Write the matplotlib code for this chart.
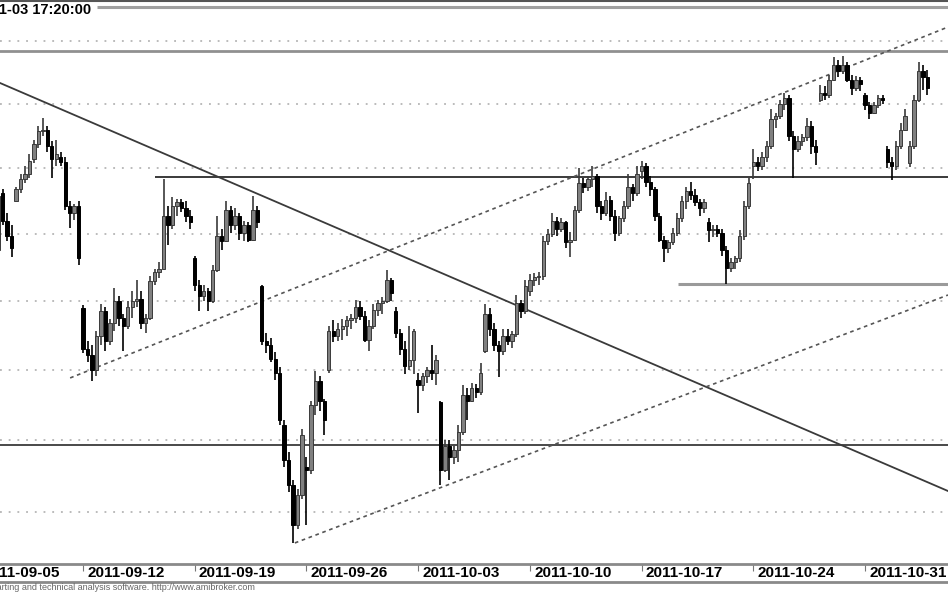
import matplotlib
matplotlib.use("Agg")
import matplotlib.pyplot as plt
import matplotlib.transforms as mtransforms
from matplotlib.lines import Line2D

plt.rcParams['font.family'] = ['Liberation Sans', 'DejaVu Sans']

# intraday bars, 5 per session; bar 0 = first bar of 2011-09-05 (off the left edge)
BARS_PER_DAY = 5
FIRST_BAR = 5   # data starts with the 2011-09-06 session

# one row per session: Sep 6 .. Nov 3 (Nov 1 closed)
opens = [
    2345, 2338, 2381, 2360, 2349,
    2375, 2384, 2392, 2396, 2407,
    2419, 2429, 2430, 2417, 2407,
    2409, 2405, 2371, 2366, 2371,
    2295, 2265, 2261, 2250, 2275,
    2293, 2271, 2284, 2300, 2288,
    2282, 2296, 2300, 2302, 2284,
    2288, 2315, 2322, 2324, 2364,
    2357, 2371, 2374, 2370, 2364,
    2332, 2312, 2304, 2308, 2300,
    2323, 2349, 2345, 2368, 2357,
    2364, 2351, 2357, 2346, 2368,
    2311, 2271, 2268, 2258, 2248,
    2211, 2186, 2169, 2141, 2162,
    2181, 2179, 2225, 2242, 2228,
    2250, 2278, 2275, 2280, 2282,
    2286, 2288, 2296, 2289, 2272,
    2282, 2294, 2299, 2300, 2316,
    2293, 2277, 2265, 2253, 2257,
    2243, 2239, 2246, 2250, 2248,
    2227, 2179, 2196, 2188, 2193,
    2206, 2232, 2228, 2237, 2234,
    2264, 2291, 2280, 2268, 2264,
    2275, 2271, 2276, 2299, 2293,
    2308, 2316, 2318, 2319, 2345,
    2350, 2360, 2354, 2359, 2344,
    2346, 2368, 2389, 2386, 2392,
    2394, 2371, 2366, 2376, 2364,
    2351, 2362, 2371, 2386, 2381,
    2398, 2402, 2390, 2384, 2364,
    2346, 2340, 2344, 2351, 2362,
    2375, 2383, 2380, 2374, 2370,
    2359, 2353, 2354, 2351, 2338,
    2325, 2329, 2332, 2349, 2371,
    2402, 2405, 2402, 2409, 2417,
    2438, 2441, 2450, 2455, 2425,
    2415, 2421, 2424, 2433, 2417,
    2453, 2459, 2457, 2469, 2481,
    2476, 2481, 2469, 2463, 2469,
    2457, 2449, 2443, 2449, 2455,
    2415, 2405, 2402, 2417, 2430,
    2404, 2417, 2453, 2476, 2471,
]
highs = [
    2353, 2379, 2384, 2366, 2357,
    2386, 2396, 2402, 2411, 2422,
    2433, 2439, 2433, 2421, 2422,
    2413, 2409, 2375, 2373, 2375,
    2297, 2271, 2268, 2278, 2298,
    2296, 2287, 2310, 2304, 2291,
    2300, 2308, 2316, 2308, 2291,
    2319, 2324, 2329, 2392, 2371,
    2378, 2377, 2377, 2375, 2368,
    2334, 2316, 2312, 2310, 2327,
    2364, 2354, 2375, 2371, 2370,
    2366, 2360, 2359, 2379, 2371,
    2312, 2277, 2273, 2263, 2252,
    2214, 2192, 2172, 2166, 2208,
    2188, 2228, 2249, 2246, 2229,
    2282, 2286, 2284, 2287, 2289,
    2291, 2301, 2300, 2293, 2286,
    2298, 2301, 2303, 2323, 2317,
    2296, 2280, 2271, 2282, 2280,
    2248, 2248, 2252, 2268, 2261,
    2228, 2200, 2200, 2196, 2211,
    2239, 2237, 2241, 2240, 2255,
    2298, 2295, 2284, 2271, 2280,
    2280, 2278, 2305, 2301, 2316,
    2320, 2321, 2322, 2349, 2354,
    2366, 2363, 2362, 2360, 2352,
    2371, 2400, 2393, 2394, 2402,
    2396, 2375, 2382, 2379, 2368,
    2364, 2375, 2396, 2388, 2402,
    2406, 2404, 2394, 2386, 2366,
    2349, 2346, 2355, 2366, 2379,
    2386, 2390, 2384, 2377, 2377,
    2362, 2357, 2357, 2354, 2341,
    2332, 2334, 2353, 2375, 2393,
    2415, 2409, 2413, 2421, 2446,
    2443, 2453, 2459, 2457, 2429,
    2425, 2427, 2439, 2437, 2422,
    2465, 2464, 2473, 2487, 2485,
    2488, 2483, 2473, 2472, 2471,
    2459, 2452, 2452, 2457, 2457,
    2417, 2409, 2421, 2435, 2446,
    2421, 2457, 2483, 2481, 2477,
]
lows = [
    2329, 2329, 2357, 2345, 2333,
    2375, 2381, 2389, 2393, 2404,
    2416, 2425, 2413, 2393, 2402,
    2402, 2368, 2355, 2361, 2327,
    2262, 2256, 2242, 2246, 2268,
    2264, 2268, 2278, 2282, 2264,
    2280, 2288, 2296, 2280, 2277,
    2286, 2312, 2317, 2323, 2342,
    2354, 2364, 2367, 2359, 2354,
    2308, 2293, 2300, 2293, 2299,
    2322, 2338, 2344, 2351, 2353,
    2346, 2345, 2344, 2345, 2355,
    2268, 2262, 2256, 2243, 2211,
    2181, 2164, 2129, 2138, 2159,
    2141, 2176, 2218, 2221, 2204,
    2248, 2270, 2271, 2272, 2275,
    2280, 2284, 2286, 2270, 2264,
    2280, 2289, 2291, 2299, 2300,
    2273, 2261, 2247, 2250, 2247,
    2219, 2235, 2241, 2243, 2239,
    2169, 2178, 2172, 2183, 2185,
    2204, 2214, 2227, 2230, 2232,
    2262, 2275, 2264, 2245, 2261,
    2268, 2266, 2274, 2288, 2291,
    2304, 2311, 2312, 2316, 2342,
    2348, 2349, 2352, 2340, 2333,
    2345, 2366, 2381, 2383, 2386,
    2366, 2361, 2364, 2360, 2345,
    2349, 2359, 2369, 2375, 2379,
    2392, 2386, 2379, 2360, 2344,
    2329, 2336, 2342, 2349, 2359,
    2369, 2376, 2371, 2364, 2366,
    2344, 2348, 2348, 2334, 2313,
    2322, 2324, 2329, 2346, 2369,
    2392, 2398, 2399, 2405, 2415,
    2431, 2438, 2445, 2421, 2393,
    2413, 2417, 2421, 2411, 2403,
    2452, 2453, 2455, 2468, 2471,
    2474, 2467, 2457, 2460, 2460,
    2445, 2438, 2442, 2447, 2450,
    2400, 2391, 2399, 2415, 2429,
    2401, 2415, 2452, 2461, 2457,
]
closes = [
    2338, 2379, 2360, 2349, 2340,
    2384, 2392, 2396, 2406, 2419,
    2429, 2430, 2417, 2407, 2411,
    2405, 2371, 2366, 2371, 2332,
    2265, 2261, 2250, 2275, 2293,
    2271, 2284, 2300, 2288, 2282,
    2296, 2300, 2302, 2284, 2288,
    2315, 2322, 2324, 2364, 2357,
    2371, 2374, 2370, 2364, 2359,
    2312, 2304, 2308, 2300, 2323,
    2349, 2345, 2368, 2357, 2364,
    2351, 2357, 2346, 2368, 2359,
    2271, 2268, 2258, 2248, 2214,
    2186, 2169, 2141, 2162, 2204,
    2179, 2225, 2242, 2228, 2214,
    2278, 2275, 2280, 2282, 2286,
    2288, 2296, 2289, 2272, 2282,
    2294, 2299, 2300, 2316, 2306,
    2277, 2265, 2253, 2257, 2278,
    2239, 2246, 2250, 2248, 2257,
    2179, 2196, 2188, 2193, 2206,
    2232, 2228, 2237, 2234, 2248,
    2291, 2280, 2268, 2264, 2275,
    2271, 2276, 2299, 2293, 2311,
    2316, 2318, 2319, 2345, 2350,
    2360, 2354, 2359, 2344, 2346,
    2368, 2389, 2386, 2392, 2394,
    2371, 2366, 2376, 2364, 2351,
    2362, 2371, 2386, 2381, 2396,
    2402, 2390, 2384, 2364, 2346,
    2340, 2344, 2351, 2362, 2375,
    2383, 2380, 2374, 2370, 2374,
    2353, 2354, 2351, 2338, 2325,
    2329, 2332, 2349, 2371, 2389,
    2405, 2402, 2409, 2417, 2438,
    2441, 2450, 2455, 2425, 2415,
    2421, 2424, 2433, 2417, 2413,
    2459, 2457, 2469, 2481, 2476,
    2481, 2469, 2463, 2469, 2466,
    2449, 2443, 2449, 2455, 2453,
    2405, 2402, 2417, 2430, 2441,
    2417, 2453, 2476, 2471, 2463,
]

week_labels = ['2011-09-05', '2011-09-12', '2011-09-19', '2011-09-26',
               '2011-10-03', '2011-10-10', '2011-10-17', '2011-10-24', '2011-10-31']
grid_levels = [2150, 2200, 2250, 2300, 2350, 2400, 2450, 2500]

# horizontal support/resistance: price, first bar, colour, width
levels = [
    (2527.0, 28.1, '#a0a0a0', 2.2),
    (2492.0, 0, '#909090', 2.0),
    (2393.5, 41.1, '#3a3a3a', 1.4),
    (2313.0, 158.1, '#9a9a9a', 2.2),
    (2196.7, 0, '#3a3a3a', 1.3),
]
# trend lines: bar a, price a, bar b, price b, style
trends = [
    (6.4, 2466.6, 218.6, 2164.5, '-'),
    (22.1, 2244.3, 218.6, 2511.2, ':'),
    (72.4, 2128.8, 218.6, 2304.7, ':'),
]

fig = plt.figure(figsize=(9.48, 5.93), dpi=100)
ax = fig.add_axes([0, 29 / 593, 1, 562 / 593])
ax.set_yscale('log')

for g in grid_levels:
    ax.axhline(g, color='#a8a8a8', lw=1.1, ls=(0, (1.2, 4.5)), zorder=1)

for price, start, col, w in levels:
    ax.hlines(price, start, 230, color=col, lw=w, zorder=2)

for xa, pa, xb, pb, st in trends:
    if st == '-':
        ax.plot([xa, xb], [pa, pb], color='#3a3a3a', lw=1.3, zorder=2)
    else:
        ax.plot([xa, xb], [pa, pb], color='#555555', lw=1.2, ls=(0, (2.2, 2.2)), zorder=2)

# candles
xs = [FIRST_BAR + k for k in range(len(closes))]
up = [c >= o for o, c in zip(opens, closes)]
wick_col = ['#3a3a3a' if u else '#000000' for u in up]
face_col = ['#808080' if u else '#000000' for u in up]
edge_col = ['#3a3a3a' if u else '#000000' for u in up]
ax.vlines(xs, lows, highs, colors=wick_col, lw=1.2, zorder=3)
bottoms = [min(o, c) for o, c in zip(opens, closes)]
heights = [max(abs(c - o), 0.5) for o, c in zip(opens, closes)]
ax.bar(xs, heights, bottom=bottoms, width=0.75, color=face_col,
       edgecolor=edge_col, linewidth=0.7, zorder=4)

# axes cosmetics
for s in ['left', 'right', 'top']:
    ax.spines[s].set_visible(False)
ax.spines['bottom'].set_color('#8a8a8a')
ax.spines['bottom'].set_linewidth(2)
ax.tick_params(axis='y', which='both', left=False, right=False, labelleft=False)
tick_pos = [w * 5 * BARS_PER_DAY for w in range(len(week_labels))]
ax.set_xticks(tick_pos)
ax.set_xticklabels(week_labels, fontweight='bold')
ax.tick_params(axis='x', direction='out', length=5, width=0.8, color='#777777',
               pad=-3.6, labelsize=11)
offset = mtransforms.ScaledTranslation(3 / 72, 0, fig.dpi_scale_trans)
for lab in ax.get_xticklabels():
    lab.set_horizontalalignment('left')
    lab.set_transform(lab.get_transform() + offset)

# limits last: set_xticks would otherwise widen the view
ax.set_xlim(6.4, 218.6)
ax.set_ylim(2114.5, 2531.4)

# first week's label sits left of the view, only its tail shows
first_off = mtransforms.ScaledTranslation(8 / 72, -1.4 / 72, fig.dpi_scale_trans)
ax.text(tick_pos[0], 0, week_labels[0], transform=ax.get_xaxis_transform() + first_off,
        ha='left', va='top', fontsize=11, fontweight='bold', clip_on=False)

fig.add_artist(Line2D([0, 1], [1 - 582 / 593] * 2, transform=fig.transFigure,
                      color='#8a8a8a', lw=2))
fig.add_artist(Line2D([0, 1], [1 - 0.8 / 593] * 2, transform=fig.transFigure,
                      color='#555555', lw=1.5))

fig.text(91 / 948, 1 - 10 / 593, '2011-11-03 17:20:00', ha='right', va='center',
         fontsize=10.5, fontweight='bold')
fig.text(255 / 948, 1 - 587 / 593,
         'AmiBroker - charting and technical analysis software. http://www.amibroker.com',
         ha='right', va='center', fontsize=6.5, color='#666666')

fig.savefig('out.png', dpi=100)
